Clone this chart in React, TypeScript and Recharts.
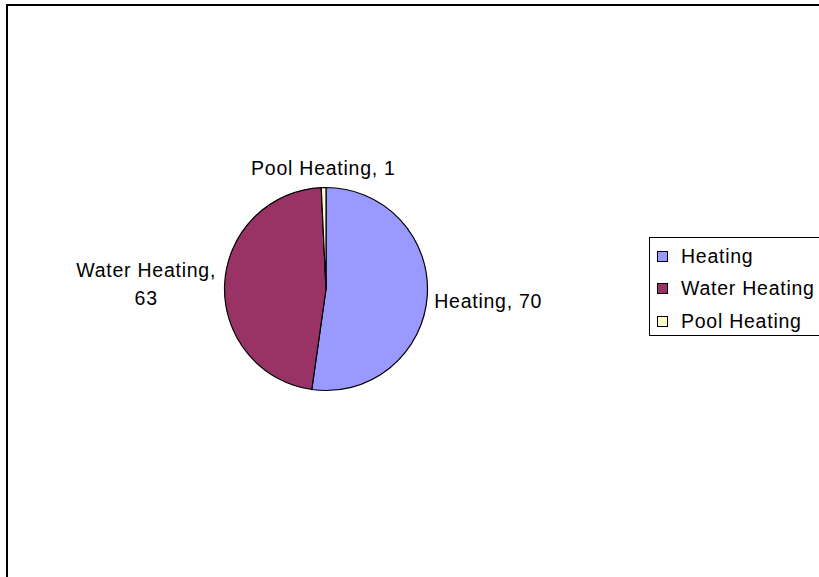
import { PieChart, Pie, Cell, Legend } from "recharts";

const categories = ["Heating", "Water Heating", "Pool Heating"];
const values = [70, 63, 1];
const colors = ["#9999FF", "#993366", "#FFFFCC"];

const data = categories.map((name, i) => ({ name, value: values[i] }));

const FONT = "'Liberation Sans', Arial, sans-serif";
const RAD = Math.PI / 180;

function renderLabel(props: any) {
  const { cx, cy, midAngle, outerRadius, name, value } = props;
  const r = outerRadius + 9;
  const cos = Math.cos(-midAngle * RAD);
  const sin = Math.sin(-midAngle * RAD);
  const x = cx + r * cos;
  const y = cy + r * sin;
  const anchor = cos > 0.3 ? "start" : cos < -0.3 ? "end" : "middle";
  const text = `${name}, ${value}`;
  const common = { fill: "#000", fontSize: 19.5, fontFamily: FONT, letterSpacing: 0.75 };

  if (anchor === "middle") {
    // label above/below the slice
    const dy = sin < 0 ? -4 : 18;
    return (
      <text x={x} y={y + dy} textAnchor="middle" {...common}>
        {text}
      </text>
    );
  }
  if (text.length > 14) {
    // wrap long side labels onto two lines, value centred under the name
    const line1 = `${name},`;
    const w = line1.length * 10.2;
    const cxText = anchor === "end" ? x + 2 - w / 2 : x + w / 2;
    return (
      <text textAnchor="middle" {...common}>
        <tspan x={cxText} y={y - 7}>{line1}</tspan>
        <tspan x={cxText} y={y + 21}>{value}</tspan>
      </text>
    );
  }
  return (
    <text x={x - 2} y={y + 11} textAnchor={anchor} {...common}>
      {text}
    </text>
  );
}

function LegendBox() {
  return (
    <div
      style={{
        border: "1px solid #000",
        width: 200,
        height: 99,
        boxSizing: "border-box",
        paddingTop: 2,
        fontFamily: FONT,
        fontSize: 19.5,
        letterSpacing: 0.75,
        color: "#000",
      }}
    >
      {data.map((d, i) => (
        <div key={d.name} style={{ display: "flex", alignItems: "center", height: 32.5 }}>
          <span
            style={{
              display: "inline-block",
              width: 9,
              height: 9,
              border: "1px solid #000",
              background: colors[i],
              marginLeft: 7,
              marginRight: 13,
            }}
          />
          <span style={{ whiteSpace: "nowrap" }}>{d.name}</span>
        </div>
      ))}
    </div>
  );
}

export default function App() {
  return (
    <div
      style={{
        position: "fixed",
        left: 0,
        top: 0,
        width: 819,
        height: 577,
        overflow: "hidden",
        background: "#fff",
      }}
    >
      <div
        style={{
          position: "absolute",
          left: 6,
          top: 4,
          width: 900,
          height: 700,
          border: "2px solid #000",
        }}
      />
      <div style={{ position: "absolute", left: 0, top: 0 }}>
        <PieChart width={819} height={577} margin={{ top: 0, right: 0, bottom: 0, left: 0 }}>
          <Pie
            data={data}
            dataKey="value"
            nameKey="name"
            cx={326}
            cy={289}
            outerRadius={101.5}
            startAngle={90}
            endAngle={-270}
            stroke="#000"
            strokeWidth={1.2}
            label={renderLabel}
            labelLine={false}
            isAnimationActive={false}
          >
            {data.map((d, i) => (
              <Cell key={d.name} fill={colors[i]} />
            ))}
          </Pie>
          <Legend
            content={() => <LegendBox />}
            wrapperStyle={{ position: "absolute", left: 649, top: 237, width: 200 }}
          />
        </PieChart>
      </div>
    </div>
  );
}
